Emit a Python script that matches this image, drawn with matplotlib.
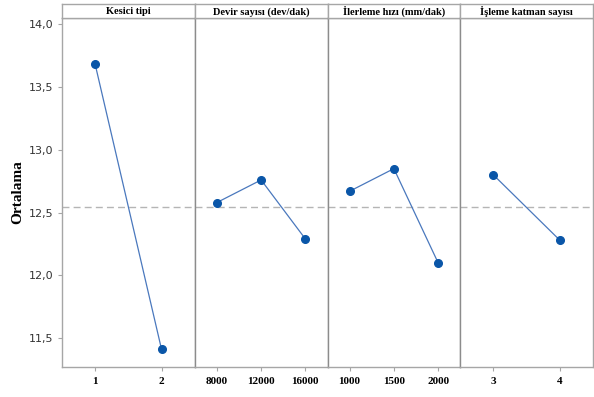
import matplotlib
matplotlib.use("Agg")
import matplotlib.pyplot as plt
import matplotlib.ticker as mticker

# main effects data
factors = ["Kesici tipi", "Devir sayısı (dev/dak)", "İlerleme hızı (mm/dak)", "İşleme katman sayısı"]
levels = [["1", "2"], ["8000", "12000", "16000"], ["1000", "1500", "2000"], ["3", "4"]]
means = [[13.68, 11.41], [12.58, 12.76, 12.29], [12.67, 12.85, 12.10], [12.80, 12.28]]
grand_mean = 12.545

y_ticks = [11.5, 12.0, 12.5, 13.0, 13.5, 14.0]
y_min, y_max = 11.27, 14.05

dot_c = "#0a56a8"
line_c = "#4a78bd"
frame_c = "#a6a6a6"
serif = ["Liberation Serif", "DejaVu Serif"]

fig = plt.figure(figsize=(5.94, 3.97), dpi=100)
W, H = 594, 397
left, right = 62, 593
top, bottom = 18, 367
strip_top = 4
pw = (right - left) / len(factors)

for i, (name, lv, ys) in enumerate(zip(factors, levels, means)):
    x0 = left + i * pw
    ax = fig.add_axes([x0 / W, 1 - bottom / H, pw / W, (bottom - top) / H])
    xs = list(range(1, len(lv) + 1))
    ax.axhline(grand_mean, color="#b5b5b5", lw=1, ls=(0, (5, 3)), zorder=1)
    ax.plot(xs, ys, color=line_c, lw=0.9, zorder=2)
    ax.plot(xs, ys, "o", color=dot_c, ms=5.5, zorder=3)
    ax.set_xlim(0.5, len(lv) + 0.5)
    ax.set_ylim(y_min, y_max)
    ax.set_xticks(xs)
    ax.set_xticklabels(lv, fontfamily=serif, fontweight="bold", fontsize=8)
    ax.tick_params(axis="x", length=3, color=frame_c, pad=4)
    for s in ax.spines.values():
        s.set_color(frame_c)
        s.set_linewidth(1)
    if i > 0:
        ax.spines["left"].set_color("#8c8c8c")
    if i == 0:
        ax.set_yticks(y_ticks)
        ax.yaxis.set_major_formatter(mticker.FuncFormatter(lambda v, p: f"{v:.1f}".replace(".", ",")))
        ax.tick_params(axis="y", length=3, color=frame_c, labelsize=8, labelcolor="#333333")
        ax.set_ylabel("Ortalama", fontfamily=serif, fontweight="bold", fontsize=11, labelpad=3)
    else:
        ax.set_yticks([])
    # strip header
    sx = fig.add_axes([x0 / W, 1 - top / H, pw / W, (top - strip_top) / H])
    sx.set_xticks([])
    sx.set_yticks([])
    for s in sx.spines.values():
        s.set_color(frame_c)
        s.set_linewidth(1)
    sx.text(0.5, 0.45, name, ha="center", va="center", fontfamily=serif,
            fontweight="bold", fontsize=7.5, transform=sx.transAxes)

fig.savefig("out.png", dpi=100)
